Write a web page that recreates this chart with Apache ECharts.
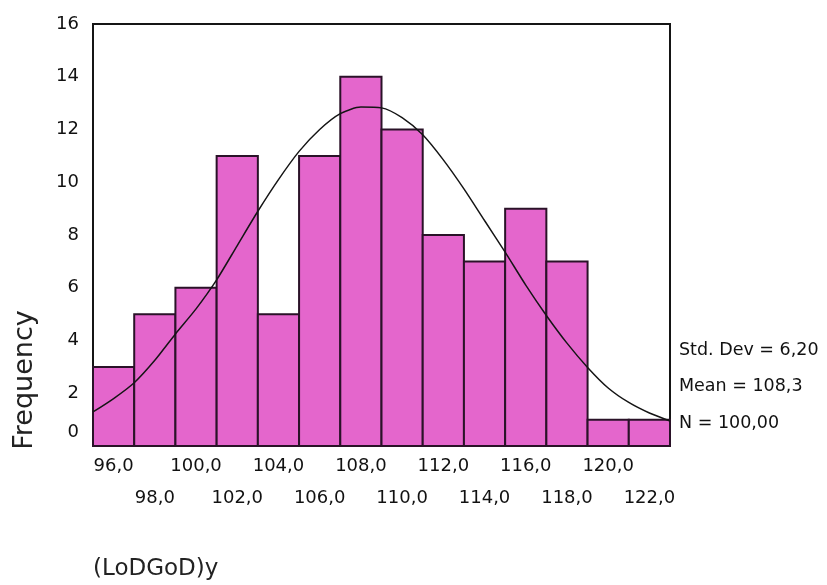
<!DOCTYPE html>
<html>
<head>
<meta charset="utf-8">
<script src="https://cdn.jsdelivr.net/npm/echarts@6/dist/echarts.min.js"></script>
<style>
html,body{margin:0;padding:0;background:#fff;}
#chart{width:827px;height:585px;}
</style>
</head>
<body>
<div id="chart"></div>
<script>
// ---- data ----
const binCenters = [96, 98, 100, 102, 104, 106, 108, 110, 112, 114, 116, 118, 120, 122];
const counts     = [3, 5, 6, 11, 5, 11, 14, 12, 8, 7, 9, 7, 1, 1];
const binWidth = 2;
const curveX = [95, 96, 97, 98, 99, 100, 101, 102, 103, 104, 105, 106, 107, 108, 109,
                110, 111, 112, 113, 114, 115, 116, 117, 118, 119, 120, 121, 122, 123];
const curveY = [1.29, 1.8, 2.4, 3.25, 4.25, 5.2, 6.3, 7.6, 8.9, 10.1, 11.17, 12.0, 12.6, 12.85, 12.82,
                12.45, 11.8, 10.85, 9.75, 8.55, 7.35, 6.1, 4.95, 3.9, 2.98, 2.2, 1.65, 1.25, 0.95];
const xTickValues = [96, 98, 100, 102, 104, 106, 108, 110, 112, 114, 116, 118, 120, 122];
const yTickValues = [0, 2, 4, 6, 8, 10, 12, 14, 16];
const statLines = ['Std. Dev = 6,20', 'Mean = 108,3', 'N = 100,00'];
const yTitle = 'Frequency';
const xTitle = '(LoDGoD)y';

const FONT = 'DejaVu Sans';
const chart = echarts.init(document.getElementById('chart'), null, {renderer: 'canvas'});

const barData = binCenters.map((c, i) => [c, counts[i]]);
const lineData = curveX.map((x, i) => [x, curveY[i]]);

const option = {
  animation: false,
  backgroundColor: '#ffffff',
  grid: {
    left: 93, top: 24, width: 577, height: 422,
    show: true, borderColor: '#151515', borderWidth: 2, backgroundColor: 'transparent'
  },
  xAxis: {
    type: 'value', min: 95, max: 123,
    axisLine: {show: false}, axisTick: {show: false}, splitLine: {show: false},
    axisLabel: {
      customValues: xTickValues,
      margin: 11,
      verticalAlign: 'top',
      color: '#111', fontFamily: FONT, fontSize: 18,
      formatter: function (v) {
        const s = v.toFixed(1).replace('.', ',');
        const idx = xTickValues.indexOf(v);
        return idx % 2 === 1 ? '{b|' + s + '}' : '{a|' + s + '}';
      },
      rich: {
        a: {fontFamily: FONT, fontSize: 18, color: '#111'},
        b: {fontFamily: FONT, fontSize: 18, color: '#111', padding: [32, 0, 0, 0]}
      }
    }
  },
  yAxis: {
    type: 'value', min: 0, max: 16,
    axisLine: {show: false}, axisTick: {show: false}, splitLine: {show: false},
    axisLabel: {
      customValues: yTickValues,
      margin: 14,
      color: '#111', fontFamily: FONT, fontSize: 18,
      formatter: function (v) {
        return v === 0 ? '{z|0}' : String(v);
      },
      rich: {
        z: {fontFamily: FONT, fontSize: 18, color: '#111', padding: [0, 0, 28, 0]}
      }
    }
  },
  series: [
    {
      type: 'custom',
      data: barData,
      z: 2,
      renderItem: function (params, api) {
        const x = api.value(0), y = api.value(1);
        const p1 = api.coord([x - binWidth / 2, y]);
        const p2 = api.coord([x + binWidth / 2, 0]);
        return {
          type: 'rect',
          shape: {x: p1[0], y: p1[1], width: p2[0] - p1[0], height: p2[1] - p1[1]},
          style: {fill: '#e466cc', stroke: '#2a1228', lineWidth: 2}
        };
      }
    },
    {
      type: 'line',
      data: lineData,
      smooth: 0.25,
      showSymbol: false,
      z: 3,
      lineStyle: {color: '#151515', width: 1.5}
    }
  ],
  graphic: [
    {
      type: 'text', x: 25, y: 380, rotation: Math.PI / 2,
      style: {text: yTitle, fontFamily: FONT, fontSize: 27, fill: '#222', align: 'center', verticalAlign: 'middle'}
    },
    {
      type: 'text', x: 93, y: 569,
      style: {text: xTitle, fontFamily: FONT, fontSize: 23, fill: '#222', align: 'left', verticalAlign: 'middle'}
    },
    {
      type: 'text', x: 679, y: 350,
      style: {text: statLines[0], fontFamily: FONT, fontSize: 17.5, fill: '#111', align: 'left', verticalAlign: 'middle'}
    },
    {
      type: 'text', x: 679, y: 386,
      style: {text: statLines[1], fontFamily: FONT, fontSize: 17.5, fill: '#111', align: 'left', verticalAlign: 'middle'}
    },
    {
      type: 'text', x: 679, y: 423,
      style: {text: statLines[2], fontFamily: FONT, fontSize: 17.5, fill: '#111', align: 'left', verticalAlign: 'middle'}
    }
  ]
};
chart.setOption(option);
</script>
</body>
</html>
